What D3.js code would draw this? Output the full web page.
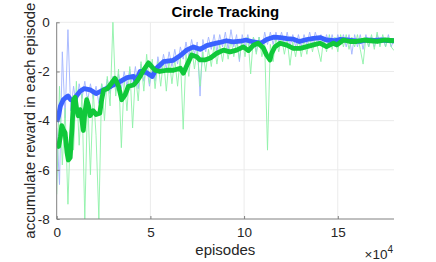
<!DOCTYPE html>
<html>
<head>
<meta charset="utf-8">
<script src="https://cdn.jsdelivr.net/npm/d3@7"></script>
<style>
body{margin:0;background:#fff;}
svg{display:block;font-family:"Liberation Sans",Arial,sans-serif;}
</style>
</head>
<body>
<svg id="chart"></svg>
<script>
// x values are in units of 10^4 episodes
var xTicks=[0,5,10,15];
var yTicks=[0,-2,-4,-6,-8];
var rawStep=0.15;

// raw per-episode reward (sampled every rawStep)
var blueRaw=[-4.3,-6.6,-1.2,-3.9,-0.3,-3.6,-2.6,-3.4,-2.5,-3.1,-2.4,-3.2,-2.5,-3.1,-2.6,-3.3,-2.5,-3.0,-2.3,-2.9,
	-2.2,-2.8,-2.1,-2.7,-2.0,-2.6,-1.9,-2.6,-1.8,-2.7,-1.7,-2.4,-1.8,-2.6,-1.9,-2.4,-1.4,-2.0,-1.3,-1.9,
	-1.2,-1.8,-1.1,-1.7,-1.0,-1.5,-0.8,-1.4,-0.7,-1.3,-0.8,-3.0,-0.7,-1.2,-0.6,-1.1,-0.5,-1.2,-0.5,-1.0,
	-0.4,-1.1,-0.3,-1.0,-0.5,-1.6,-0.5,-1.0,-0.5,-1.1,-0.6,-1.2,-0.6,-1.1,-0.4,-0.9,-0.4,-0.9,-0.4,-0.8,
	-0.4,-0.9,-0.4,-1.0,-0.5,-1.0,-0.5,-1.0,-0.5,-0.9,-0.4,-0.9,-0.4,-0.8,-0.5,-0.9,-0.5,-1.0,-0.5,-1.0,
	-0.5,-0.9,-0.5,-1.0,-0.5,-1.3,-0.5,-1.0,-0.5,-1.1,-0.5,-1.0,-0.6,-1.0,-0.5,-0.9,-0.6,-1.0,-0.5,-1.0,-0.7];
var greenRaw=[-7.0,-2.6,-5.8,-3.5,-7.4,-4.0,-5.2,-2.4,-5.0,-2.9,-8.0,-3.0,-6.2,-2.8,-4.6,-8.0,-2.5,-4.0,-2.2,-3.4,
	0.0,-3.0,-1.9,-5.1,-2.3,-3.6,-1.8,-4.3,-2.1,-3.2,-1.6,-2.8,-1.3,-2.5,-1.5,-2.7,-1.6,-2.6,-1.5,-2.8,
	-1.5,-2.5,-1.5,-2.6,-1.4,-4.35,-1.3,-2.2,-1.0,-1.9,-1.1,-2.6,-1.2,-2.0,-1.1,-1.8,-0.9,-1.7,-0.9,-1.6,
	-0.8,-1.5,-0.7,-1.4,-0.8,-1.5,-0.7,-1.4,-0.6,-2.1,-0.6,-1.3,-0.6,-1.4,-0.9,-5.2,-0.9,-1.6,-0.6,-1.2,
	-0.6,-1.3,-0.7,-1.75,-0.8,-1.4,-0.7,-1.4,-0.7,-1.3,-0.6,-1.2,-0.6,-1.1,-1.6,-0.6,-1.2,-0.5,-1.1,-0.6,
	-1.2,-0.5,-1.0,-0.5,-1.1,-0.6,-1.0,-0.5,-1.1,-1.7,-0.6,-1.0,-0.5,-1.1,-0.4,-1.0,-0.5,-1.0,-0.6,-1.0,-1.15];

// moving-average curves [x, reward]
var blueSmooth=[[0,-4.05],[0.1,-3.8],[0.2,-3.4],[0.35,-3.15],[0.5,-3.05],[0.6,-3.0],[0.75,-3.15],[0.95,-3.2],
	[1.05,-3.0],[1.25,-2.8],[1.45,-2.7],[1.8,-2.75],[2.1,-2.9],[2.5,-2.75],[2.9,-2.6],[3.4,-2.4],[3.75,-2.25],
	[4.1,-2.2],[4.25,-2.4],[4.45,-2.0],[4.8,-2.05],[5.1,-2.2],[5.35,-1.85],[5.7,-1.6],[6.2,-1.55],[6.6,-1.35],
	[6.95,-1.12],[7.3,-1.0],[7.65,-1.1],[8.0,-0.95],[8.35,-0.88],[8.7,-0.82],[9.05,-0.75],[9.4,-0.8],[9.8,-0.77],
	[10.1,-0.72],[10.5,-0.8],[10.9,-0.85],[11.2,-0.7],[11.6,-0.6],[11.95,-0.62],[12.3,-0.66],[12.6,-0.68],
	[12.95,-0.78],[13.35,-0.7],[13.7,-0.65],[14.05,-0.62],[14.4,-0.72],[14.8,-0.75],[15.1,-0.7],[15.5,-0.72],
	[15.85,-0.75],[16.2,-0.78],[16.55,-0.72],[16.95,-0.74],[17.3,-0.72],[17.65,-0.74],[18,-0.75]];
var greenSmooth=[[0,-4.9],[0.1,-5.05],[0.2,-4.65],[0.27,-4.2],[0.35,-4.35],[0.45,-4.5],[0.55,-5.3],[0.62,-5.6],
	[0.72,-5.5],[0.8,-4.5],[0.9,-3.15],[0.98,-3.05],[1.07,-3.55],[1.15,-3.8],[1.25,-3.55],[1.33,-3.9],[1.42,-4.4],
	[1.5,-3.7],[1.6,-3.15],[1.7,-3.4],[1.78,-3.8],[1.95,-3.6],[2.1,-3.75],[2.3,-3.7],[2.4,-3.15],[2.5,-2.75],
	[2.7,-2.7],[2.9,-2.5],[3.11,-2.28],[3.3,-2.6],[3.47,-3.15],[3.65,-2.95],[3.83,-2.6],[4.1,-2.55],[4.27,-2.4],
	[4.45,-2.2],[4.63,-1.95],[4.9,-1.65],[5.07,-1.8],[5.25,-1.95],[5.5,-2.0],[5.87,-1.95],[6.23,-1.95],[6.6,-1.87],
	[6.76,-2.07],[6.95,-1.75],[7.2,-1.33],[7.47,-1.4],[7.65,-1.53],[7.9,-1.53],[8.2,-1.45],[8.54,-1.26],[8.9,-1.13],
	[9.25,-1.2],[9.6,-1.13],[9.96,-1.0],[10.23,-1.15],[10.5,-0.93],[10.75,-0.85],[11.03,-1.05],[11.2,-1.33],
	[11.38,-1.53],[11.47,-1.26],[11.65,-0.99],[11.92,-0.85],[12.28,-0.93],[12.63,-1.06],[13.0,-1.06],[13.35,-0.99],
	[13.7,-0.92],[14.05,-0.85],[14.4,-0.99],[14.77,-0.85],[14.95,-0.92],[15.3,-0.72],[15.65,-0.78],[16.0,-0.78],
	[16.4,-0.72],[16.75,-0.75],[17.1,-0.78],[17.5,-0.72],[18,-0.75]];

function drawChart(svgId){
	var W=436,H=262;
	var L=56.7,R=394,T=22.3,B=219;
	var svg=d3.select("#"+svgId).attr("width",W).attr("height",H);
	var x=d3.scaleLinear().domain([0,18]).range([L,R]);
	var y=d3.scaleLinear().domain([-8,0]).range([B,T]);

	// grid
	svg.append("g").selectAll("line").data(xTicks.slice(1)).enter().append("line")
		.attr("x1",d=>x(d)).attr("x2",d=>x(d)).attr("y1",T).attr("y2",B)
		.attr("stroke","#ebebeb").attr("stroke-width",1);
	svg.append("g").selectAll("line").data(yTicks.slice(0,4)).enter().append("line")
		.attr("x1",L).attr("x2",R).attr("y1",d=>y(d)).attr("y2",d=>y(d))
		.attr("stroke","#ebebeb").attr("stroke-width",1);

	svg.append("clipPath").attr("id","clip").append("rect")
		.attr("x",L).attr("y",T-3).attr("width",R-L).attr("height",B-T+3);
	var plot=svg.append("g").attr("clip-path","url(#clip)");

	var rawLine=d3.line().x((d,i)=>x(i*rawStep)).y(d=>y(d));
	var smLine=d3.line().x(d=>x(d[0])).y(d=>y(d[1]));

	plot.append("path").attr("d",rawLine(blueRaw)).attr("fill","none")
		.attr("stroke","#a3b5ff").attr("stroke-width",1).attr("stroke-opacity",0.9);
	plot.append("path").attr("d",rawLine(greenRaw)).attr("fill","none")
		.attr("stroke","#8ff2a8").attr("stroke-width",1).attr("stroke-opacity",0.9);
	plot.append("path").attr("d",smLine(blueSmooth)).attr("fill","none")
		.attr("stroke","#3a62ff").attr("stroke-width",4.8).attr("stroke-linejoin","round");
	plot.append("path").attr("d",smLine(greenSmooth)).attr("fill","none")
		.attr("stroke","#10c83a").attr("stroke-width",4.8).attr("stroke-linejoin","round");

	// axes
	var xAxis=d3.axisBottom(x).tickValues(xTicks).tickSize(-3).tickPadding(8);
	var yAxis=d3.axisLeft(y).tickValues(yTicks).tickSize(-3).tickPadding(7).tickFormat(d3.format("d"));
	var gx=svg.append("g").attr("transform","translate(0,"+B+")").call(xAxis);
	var gy=svg.append("g").attr("transform","translate("+L+",0)").call(yAxis);
	[gx,gy].forEach(function(g){
		g.select(".domain").attr("stroke","#808080").attr("stroke-width",1);
		g.selectAll(".tick line").attr("stroke","#808080");
		g.selectAll(".tick text").attr("fill","#262626").style("font-size","13.5px")
			.style("font-family","'Liberation Sans',Arial,sans-serif");
	});
	gy.selectAll(".tick text").text(d=>d===0?"0":"-"+Math.abs(d));
	gx.select(".domain").attr("d","M"+L+",0H"+R);
	gy.select(".domain").attr("d","M0,"+B+"V"+T);

	svg.append("text").attr("x",(L+R)/2).attr("y",17).attr("text-anchor","middle")
		.style("font-size","15px").style("font-weight","bold").attr("fill","#000").text("Circle Tracking");
	svg.append("text").attr("x",(L+R)/2).attr("y",255).attr("text-anchor","middle")
		.style("font-size","15px").attr("fill","#262626").text("episodes");
	svg.append("text").attr("transform","translate(35,"+((T+B)/2)+") rotate(-90)").attr("text-anchor","middle")
		.style("font-size","15px").attr("fill","#262626").text("accumulate reward in each episode");
	var ex=svg.append("text").attr("x",393).attr("y",259).attr("text-anchor","end")
		.style("font-size","13.5px").attr("fill","#262626");
	ex.append("tspan").text("\u00d710");
	ex.append("tspan").attr("dy",-6).style("font-size","10px").text("4");
}
drawChart("chart");
</script>
</body>
</html>
